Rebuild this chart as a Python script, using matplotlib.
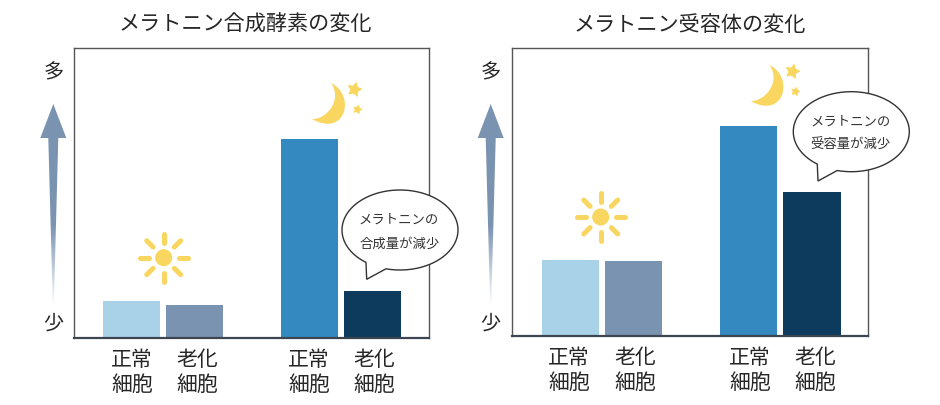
import numpy as np
import matplotlib
matplotlib.use("Agg")
import matplotlib.pyplot as plt
from matplotlib.patches import Circle, PathPatch, Polygon
from matplotlib.path import Path

plt.rcParams['font.family'] = ['Noto Sans CJK JP', 'DejaVu Sans']

W, H = 940, 405
TEXT = '#262626'
YELLOW = '#f9d65f'

titles = ['メラトニン合成酵素の変化', 'メラトニン受容体の変化']
bubble_text = [['メラトニンの', '合成量が減少'], ['メラトニンの', '受容量が減少']]
cell_labels = ['正常\n細胞', '老化\n細胞', '正常\n細胞', '老化\n細胞']
bar_pos = [0, 1, 2.82, 3.82]
bar_colors = ['#a9d2e8', '#7a93b0', '#3389c0', '#0d3b5e']

# values (arbitrary units, no scale in the original)
enzyme_vals = [37.5, 33, 199, 47.5]
receptor_vals = [75.5, 75, 210, 143.5]

fig = plt.figure(figsize=(W / 100, H / 100), dpi=100)
fig.patch.set_facecolor('white')


def make_axes(box, vals, xlim, ymax, label_x):
    # box is left, top, right, bottom in pixels
    l, t, r, b = box
    ax = fig.add_axes([l / W, 1 - b / H, (r - l) / W, (b - t) / H])
    ax.bar(bar_pos, vals, width=0.905, color=bar_colors)
    ax.set_xlim(*xlim)
    ax.set_ylim(0, ymax)
    ax.set_yticks([])
    ax.set_xticks(label_x)
    ax.set_xticklabels(cell_labels, fontsize=15, color=TEXT, linespacing=1.18)
    ax.tick_params(axis='x', length=0, pad=8)
    for s in ['top', 'left', 'right']:
        ax.spines[s].set_color('#555555')
        ax.spines[s].set_linewidth(1.0)
    ax.spines['bottom'].set_color('#3d4650')
    ax.spines['bottom'].set_linewidth(1.6)
    return ax


make_axes((73.7, 48.3, 429, 338), enzyme_vals, (-0.917, 4.72), 289.7,
          [0.01, 1.04, 2.82, 3.85])
make_axes((512.3, 47.7, 868.3, 335.7), receptor_vals, (-0.92, 4.71), 288,
          [-0.02, 1.02, 2.84, 3.87])

# overlay in pixel coordinates for the drawings around the bars
ov = fig.add_axes([0, 0, 1, 1], zorder=5)
ov.set_xlim(0, W)
ov.set_ylim(H, 0)
ov.axis('off')
ov.patch.set_alpha(0)


def arrow(cx):
    pts = [(cx, 104), (cx + 13, 138), (cx + 5, 138), (cx + 0.5, 306),
           (cx - 0.5, 306), (cx - 5, 138), (cx - 13, 138)]
    rgba = np.ones((200, 1, 4))
    rgba[:, 0, :3] = matplotlib.colors.to_rgb('#7a93b0')
    rgba[:, 0, 3] = np.where(np.arange(200) < 120, 1, 1 - (np.arange(200) - 120) / 80)
    im = ov.imshow(rgba, extent=(cx - 13, cx + 13, 306, 104), aspect='auto', zorder=2)
    im.set_clip_path(Polygon(pts, closed=True, transform=ov.transData))
    ov.set_xlim(0, W)
    ov.set_ylim(H, 0)


def sun(cx, cy):
    ov.add_patch(Circle((cx, cy), 8.5, color=YELLOW, lw=0, zorder=3))
    for a in np.arange(8) * np.pi / 4:
        ov.plot([cx + 15 * np.cos(a), cx + 24 * np.cos(a)],
                [cy + 15 * np.sin(a), cy + 24 * np.sin(a)],
                color=YELLOW, lw=3.6, solid_capstyle='round', zorder=3)


def moon(dx, dy):
    verts = [(331, 83), (356, 95), (346, 138), (312, 119),
             (326, 120), (343, 100), (331, 83)]
    verts = [(x + dx, y + dy) for x, y in verts]
    codes = [Path.MOVETO] + [Path.CURVE4] * 6
    ov.add_patch(PathPatch(Path(verts, codes), fc=YELLOW, ec='none', zorder=3))
    ov.plot([353.5 + dx], [88.5 + dy], marker=(5, 1, -15), ms=10.5, color=YELLOW, mew=0.6, zorder=3)
    ov.plot([356.5 + dx], [109 + dy], marker=(5, 1, -15), ms=6.5, color=YELLOW, mew=0.5, zorder=3)


def bubble(dx, dy, lines):
    cx, cy = 400 + dx, 230 + dy
    # ellipse outline running from where the tail leaves round to where it joins
    a0 = np.arctan2((268.7 - 230) / 40, (386 - 400) / 58)
    a1 = np.arctan2((261.7 - 230) / 40, (366.7 - 400) / 58)
    t = np.linspace(a0, a0 - (2 * np.pi - (a1 - a0)), 120)
    pts = np.column_stack([cx + 58 * np.cos(t), cy + 40 * np.sin(t)]).tolist()
    pts.append([366.7 + dx, 279.3 + dy])
    ov.add_patch(Polygon(pts, closed=True, fc='white', ec='#333333', lw=1.0, zorder=4))
    ov.text(cx - 1, cy - 10, lines[0], ha='center', va='center', fontsize=9.6, color='#333333', zorder=5)
    ov.text(cx - 0.7, cy + 13.3, lines[1], ha='center', va='center', fontsize=9.6, color='#333333', zorder=5)


ov.text(245, 25, titles[0], ha='center', va='center', fontsize=15.2, color=TEXT)
ov.text(690, 25, titles[1], ha='center', va='center', fontsize=15.2, color=TEXT)

for x in [53.3, 490.7]:
    ov.text(x, 73, '多', ha='center', va='center', fontsize=14.5, color=TEXT)
    ov.text(x, 324, '少', ha='center', va='center', fontsize=14.5, color=TEXT)
    arrow(x)

sun(163.7, 257.7)
sun(600.7, 217)
moon(0, 0)
moon(438.5, -18)
bubble(0, 0, bubble_text[0])
bubble(451.3, -98.3, bubble_text[1])

fig.savefig('out.png', dpi=100)
